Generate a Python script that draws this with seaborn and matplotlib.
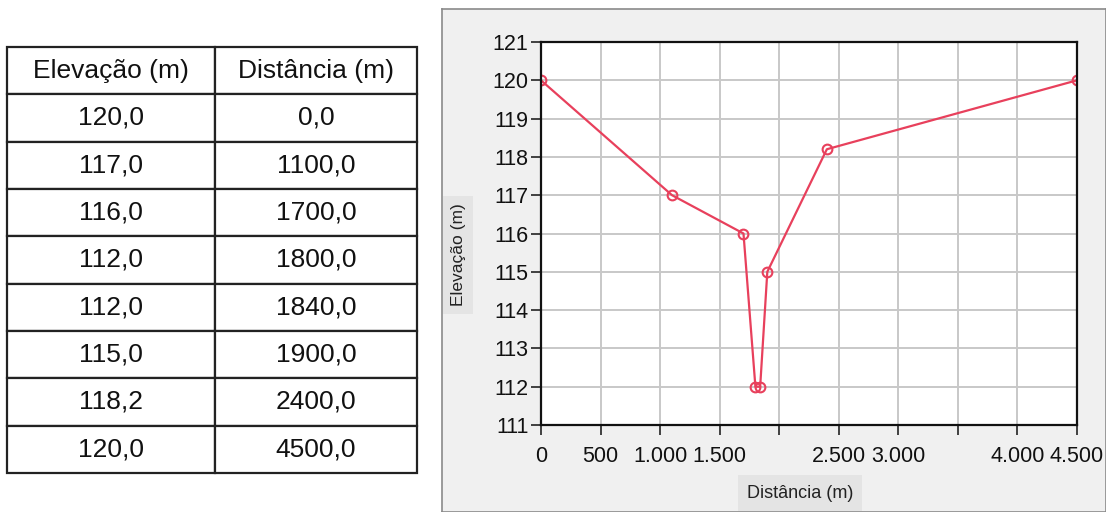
import matplotlib
matplotlib.use("Agg")
import matplotlib.pyplot as plt
import seaborn as sns
import pandas as pd
from matplotlib.ticker import FixedLocator, FixedFormatter

elevacao = [120.0, 117.0, 116.0, 112.0, 112.0, 115.0, 118.2, 120.0]
distancia = [0.0, 1100.0, 1700.0, 1800.0, 1840.0, 1900.0, 2400.0, 4500.0]
col_labels = ["Elevação (m)", "Distância (m)"]
x_ticks = [0, 500, 1000, 1500, 2000, 2500, 3000, 3500, 4000, 4500]
x_tick_labels = ["0", "500", "1.000", "1.500", "", "2.500", "3.000", "", "4.000", "4.500"]
y_ticks = list(range(111, 122))

sns.set_theme(style="white")
plt.rcParams['font.family'] = ['Liberation Sans', 'DejaVu Sans']

W, H = 1106, 512
fig = plt.figure(figsize=(W / 100, H / 100), dpi=100)
fig.patch.set_facecolor("white")

# gray panel behind chart
panel = fig.add_axes([442 / W, 0, (W - 442) / W, 1 - 9 / H], zorder=-5)
panel.set_xticks([])
panel.set_yticks([])
panel.set_facecolor("#f0f0f0")
for s in panel.spines.values():
    s.set_color("#8a8a8a")
    s.set_linewidth(1.2)

# table
tax = fig.add_axes([7 / W, 1 - 473 / H, 410 / W, 426 / H])
tax.axis("off")
cells = [[f"{e:.1f}".replace(".", ","), f"{d:.1f}".replace(".", ",")]
         for e, d in zip(elevacao, distancia)]
tbl = tax.table(cellText=cells, colLabels=col_labels, cellLoc="center",
                colWidths=[208 / 410, 202 / 410], bbox=[0, 0, 1, 1])
tbl.auto_set_font_size(False)
for (r, c), cell in tbl.get_celld().items():
    cell.set_edgecolor("#222222")
    cell.set_linewidth(1.6)
    cell.set_facecolor("white")
    cell.get_text().set_fontsize(19)
    cell.get_text().set_color("#111111")

# chart
ax = fig.add_axes([541 / W, 1 - 425 / H, 536 / W, 383 / H], zorder=2)
df = pd.DataFrame({"Distância (m)": distancia, "Elevação (m)": elevacao})
sns.lineplot(data=df, x="Distância (m)", y="Elevação (m)", sort=False, ax=ax,
             color="#e8405c", linewidth=1.6, marker="o", markersize=7,
             markerfacecolor="none", markeredgecolor="#e8405c", markeredgewidth=1.5)
ax.set_facecolor("white")
ax.set_xlim(0, 4500)
ax.set_ylim(111, 121)
ax.xaxis.set_major_locator(FixedLocator(x_ticks))
ax.xaxis.set_major_formatter(FixedFormatter(x_tick_labels))
ax.set_yticks(y_ticks)
ax.set_yticklabels([str(v) for v in y_ticks])
ax.grid(True, color="#c8c8c8", linewidth=1.4)
for s in ax.spines.values():
    s.set_color("#111111")
    s.set_linewidth(1.6)
ax.tick_params(axis="both", direction="out", length=7, width=1.3, color="#333333",
               labelsize=15.5, labelcolor="#111111", left=True, bottom=True)
ax.tick_params(axis="x", pad=8)
ax.tick_params(axis="y", pad=2)
ax.set_xlabel("")
ax.set_ylabel("")
fig.text(800 / W, 1 - 493 / H, "Distância (m)", ha="center", va="center",
         fontsize=13, color="#222222", zorder=3,
         bbox=dict(boxstyle="square,pad=0.5", facecolor="#e4e4e4", edgecolor="none"))
fig.text(458 / W, 1 - 255 / H, "Elevação (m)", ha="center", va="center",
         rotation=90, fontsize=12.5, color="#222222", zorder=3,
         bbox=dict(boxstyle="square,pad=0.45", facecolor="#e4e4e4", edgecolor="none"))

fig.savefig("out.png", dpi=100)
